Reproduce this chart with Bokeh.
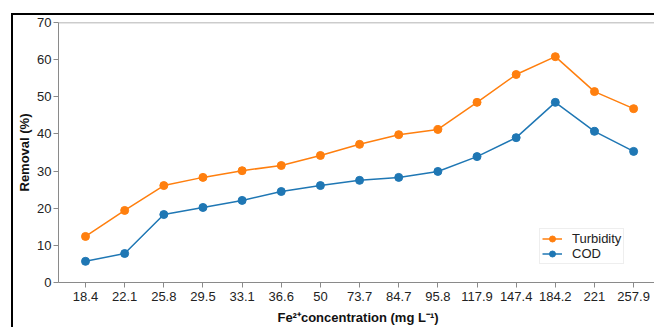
from bokeh.plotting import figure
from bokeh.models import FixedTicker, Legend, LegendItem, Range1d, Span
from bokeh.embed import file_html
from bokeh.resources import INLINE

conc_labels = ["18.4", "22.1", "25.8", "29.5", "33.1", "36.6", "50", "73.7",
               "84.7", "95.8", "117.9", "147.4", "184.2", "221", "257.9"]
turbidity = [12.4, 19.4, 26.1, 28.3, 30.1, 31.5, 34.2, 37.2, 39.8, 41.2, 48.5, 56.0, 60.8, 51.4, 46.8]
cod = [5.7, 7.8, 18.3, 20.2, 22.1, 24.5, 26.1, 27.5, 28.3, 29.9, 33.9, 39.0, 48.5, 40.7, 35.3]
y_ticks = [0, 10, 20, 30, 40, 50, 60, 70]

xs = list(range(len(conc_labels)))
FONT = "Liberation Sans"
ORANGE = "#ff7f0e"
BLUE = "#1f77b4"
Y_MAX = y_ticks[-1]

p = figure(width=644, height=314, output_backend="svg", toolbar_location=None,
           x_range=Range1d(-0.69, 14.61), y_range=Range1d(0, Y_MAX),
           min_border_left=45, min_border_top=7, min_border_right=0, min_border_bottom=47,
           margin=(15, 0, 0, 13),
           styles={"box-shadow": "-2px -2px 0px 0px black",
                   "clip-path": "inset(-3px 3px 0px -3px)"})

p.grid.visible = False
p.outline_line_color = None
p.background_fill_color = "white"
p.border_fill_color = "white"

top_rule = Span(location=Y_MAX, dimension="width", line_color="#9a9a9a", line_width=1.5)
p.add_layout(top_rule)

t_line = p.line(xs, turbidity, line_color=ORANGE, line_width=1.5)
t_pts = p.scatter(xs, turbidity, size=8, fill_color=ORANGE, line_color=ORANGE)
c_line = p.line(xs, cod, line_color=BLUE, line_width=1.5)
c_pts = p.scatter(xs, cod, size=8, fill_color=BLUE, line_color=BLUE)

xa = p.xaxis[0]
xa.ticker = FixedTicker(ticks=xs)
xa.major_label_overrides = {i: lab for i, lab in enumerate(conc_labels)}
xa.axis_label = "Fe\u00b2\u207aconcentration (mg L\u207b\u00b9)"
ya = p.yaxis[0]
ya.ticker = FixedTicker(ticks=y_ticks)
ya.axis_label = "Removal (%)"

for ax in (xa, ya):
    ax.axis_line_color = "#8a8a8a"
    ax.major_tick_line_color = "#8a8a8a"
    ax.minor_tick_line_color = None
    ax.major_tick_out = 5
    ax.major_tick_in = 0
    ax.major_label_text_font = FONT
    ax.major_label_text_font_size = "13px"
    ax.major_label_text_color = "#222222"
    ax.axis_label_text_font = FONT
    ax.axis_label_text_font_size = "13px"
    ax.axis_label_text_font_style = "bold"
    ax.axis_label_text_color = "#111111"
xa.major_label_standoff = 4
xa.axis_label_standoff = 6
ya.major_label_standoff = 2
ya.axis_label_standoff = 2

legend = Legend(items=[LegendItem(label="Turbidity", renderers=[t_line, t_pts]),
                       LegendItem(label="COD", renderers=[c_line, c_pts])],
                location=(481, 18))
legend.label_text_font = FONT
legend.label_text_font_size = "13px"
legend.label_text_color = "#222222"
legend.label_height = 15
legend.glyph_height = 15
legend.glyph_width = 20
legend.spacing = 0
legend.padding = 2
legend.margin = 0
legend.border_line_color = "#dddddd"
legend.label_standoff = 10
p.add_layout(legend)

open("out.html", "w").write(file_html(p, INLINE))
